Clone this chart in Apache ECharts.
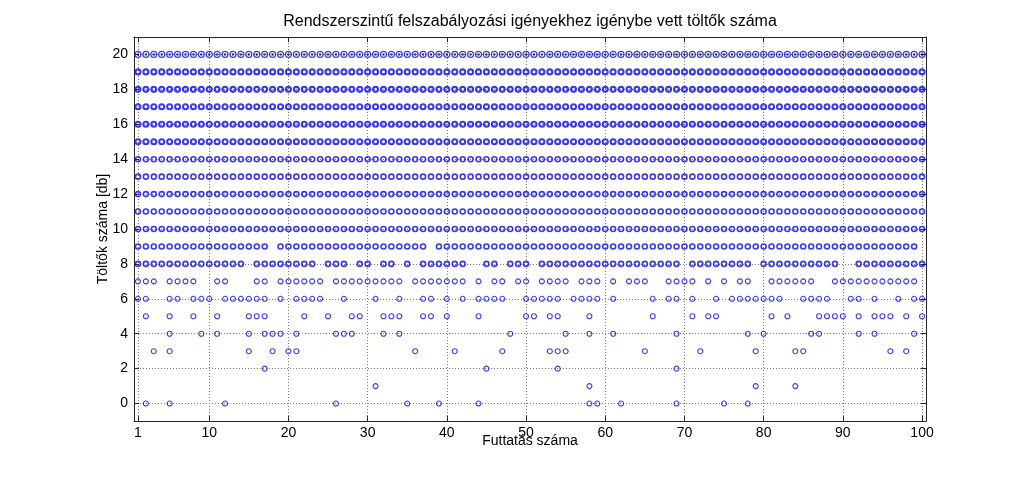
<!DOCTYPE html>
<html>
<head>
<meta charset="utf-8">
<script src="https://cdn.jsdelivr.net/npm/echarts@6/dist/echarts.min.js"></script>
<style>
html,body{margin:0;padding:0;background:#fff;}
#chart{width:1023px;height:488px;}
</style>
</head>
<body>
<div id="chart"></div>
<script>
// ---- Data ----
const xTicks = [1, 10, 20, 30, 40, 50, 60, 70, 80, 90, 100];
const yTicks = [0, 2, 4, 6, 8, 10, 12, 14, 16, 18, 20];

// runs (x) in which each number of chargers (y) occurred
const runsAll = [1,2,3,4,5,6,7,8,9,10,11,12,13,14,15,16,17,18,19,20,21,22,23,24,25,26,27,28,29,30,31,32,33,34,35,36,37,38,39,40,41,42,43,44,45,46,47,48,49,50,51,52,53,54,55,56,57,58,59,60,61,62,63,64,65,66,67,68,69,70,71,72,73,74,75,76,77,78,79,80,81,82,83,84,85,86,87,88,89,90,91,92,93,94,95,96,97,98,99,100];
const runsY9 = [1,2,3,4,5,6,7,8,9,10,11,12,13,14,15,16,17,19,20,21,22,23,24,25,26,27,28,29,30,31,32,33,34,35,36,37,39,40,41,42,43,44,45,46,47,48,49,50,51,52,53,54,55,56,57,58,59,60,61,62,63,64,65,66,67,68,69,70,71,72,73,74,75,76,77,78,79,80,81,82,83,84,85,86,87,88,89,90,91,92,93,94,95,96,97,98,99];
const runsY8 = [1,2,3,4,5,6,7,8,9,10,11,12,13,14,16,17,18,19,20,21,22,23,25,26,27,29,30,32,33,35,37,38,39,40,41,42,45,46,48,49,50,52,53,54,55,56,57,58,59,60,61,62,63,64,65,66,67,68,69,71,72,73,74,75,76,77,78,80,81,82,83,84,85,86,87,88,89,92,93,94,95,96,97,98,99,100];
const runsY7 = [1,2,3,5,6,7,8,11,12,16,17,19,20,21,22,23,24,26,27,28,29,30,31,32,33,34,36,37,38,39,40,41,42,44,46,47,49,50,52,53,54,55,57,58,59,61,63,64,65,68,69,70,71,73,75,77,78,81,82,83,84,85,86,89,90,91,92,93,94,95,96,97,98,99];
const runsY6 = [1,2,5,6,8,9,10,12,13,14,15,16,17,19,21,22,23,24,27,31,34,37,38,40,42,44,45,46,47,50,51,52,53,54,56,57,58,59,61,66,68,69,71,74,76,77,78,79,80,81,82,85,86,87,88,91,92,94,97,99,100];
const runsY5 = [2,5,8,11,15,16,17,22,25,28,29,32,33,34,37,38,40,44,50,51,53,54,58,66,71,73,74,81,83,87,88,89,90,92,94,95,96,98,100];
const runsY4 = [5,9,11,15,17,18,19,21,26,27,28,32,34,48,55,58,61,69,78,80,86,87,92,94,99];
const runsY3 = [3,5,15,18,20,21,36,41,47,53,54,55,65,72,79,84,85,96,98];
const runsY2 = [17,45,54,69];
const runsY1 = [31,58,79,84];
const runsY0 = [2,5,12,26,35,39,44,58,59,62,69,75,78];

const upperRows = [[19, runsAll], [18, runsAll], [17, runsAll], [16, runsAll], [15, runsAll]];
const topRow = [[20, runsAll]];
const middleRows = [[14, runsAll], [13, runsAll], [12, runsAll], [11, runsAll], [10, runsAll], [9, runsY9], [8, runsY8]];
const lowerRows = [[7, runsY7], [6, runsY6], [5, runsY5], [4, runsY4], [3, runsY3], [2, runsY2], [1, runsY1], [0, runsY0]];

function toPoints(rows) {
  const pts = [];
  rows.forEach(function (r) { r[1].forEach(function (x) { pts.push([x, r[0]]); }); });
  return pts;
}

const FONT = 'Liberation Sans, Arial, Helvetica, sans-serif';
const axisColor = '#262626';
const gridLine = { show: true, lineStyle: { color: '#7a7a7a', type: [1, 2], width: 1 } };
const blue = '#0a0ae6';

function markerSeries(rows, bw, size) {
  return {
    type: 'scatter',
    data: toPoints(rows),
    symbol: 'circle',
    symbolSize: size,
    silent: true,
    itemStyle: { color: 'rgba(0,0,0,0)', borderColor: blue, borderWidth: bw },
    xAxisIndex: 0, yAxisIndex: 0
  };
}

const chart = echarts.init(document.getElementById('chart'), null, { renderer: 'canvas' });
chart.setOption({
  animation: false,
  backgroundColor: '#ffffff',
  title: {
    text: 'Rendszerszintű felszabályozási igényekhez igénybe vett töltők száma',
    left: 525, top: 9, textAlign: 'center',
    textStyle: { fontFamily: FONT, fontSize: 16, fontWeight: 'normal', color: '#000' }
  },
  grid: { left: 134, right: 97, top: 37, bottom: 67, containLabel: false },
  xAxis: [{
    type: 'value', min: 0.5, max: 100.5, position: 'bottom',
    name: 'Futtatás száma', nameLocation: 'middle', nameGap: 13, nameMoveOverlap: false,
    nameTextStyle: { fontFamily: FONT, fontSize: 14, color: '#000' },
    axisLine: { show: true, onZero: false, lineStyle: { color: axisColor, width: 1 } },
    axisTick: { show: true, inside: true, length: 5, customValues: xTicks, lineStyle: { color: axisColor } },
    axisLabel: { customValues: xTicks, margin: 5, fontFamily: FONT, fontSize: 14, color: '#000' },
    splitLine: gridLine
  }, {
    type: 'value', min: 0.5, max: 100.5, position: 'top',
    axisLine: { show: true, onZero: false, lineStyle: { color: axisColor, width: 1 } },
    axisTick: { show: true, inside: true, length: 5, customValues: xTicks, lineStyle: { color: axisColor } },
    axisLabel: { show: false }, splitLine: { show: false }
  }],
  yAxis: [{
    type: 'value', min: -1, max: 21, position: 'left',
    name: 'Töltők száma [db]', nameLocation: 'middle', nameGap: 24, nameMoveOverlap: false,
    nameTextStyle: { fontFamily: FONT, fontSize: 14, color: '#000' },
    axisLine: { show: true, onZero: false, lineStyle: { color: axisColor, width: 1 } },
    axisTick: { show: true, inside: true, length: 5, customValues: yTicks, lineStyle: { color: axisColor } },
    axisLabel: { customValues: yTicks, margin: 6, fontFamily: FONT, fontSize: 14, color: '#000' },
    splitLine: gridLine
  }, {
    type: 'value', min: -1, max: 21, position: 'right',
    axisLine: { show: true, onZero: false, lineStyle: { color: axisColor, width: 1 } },
    axisTick: { show: true, inside: true, length: 5, customValues: yTicks, lineStyle: { color: axisColor } },
    axisLabel: { show: false }, splitLine: { show: false }
  }],
  series: [
    markerSeries(topRow, 1.2, 6),
    markerSeries(upperRows, 2.1, 5),
    markerSeries(middleRows, 1.6, 5),
    markerSeries(lowerRows, 1.1, 5),
    {
      type: 'scatter', silent: true,
      data: toPoints(topRow),
      symbol: 'circle', symbolSize: 2.4,
      itemStyle: { color: '#111' }
    }
  ]
});
</script>
</body>
</html>
